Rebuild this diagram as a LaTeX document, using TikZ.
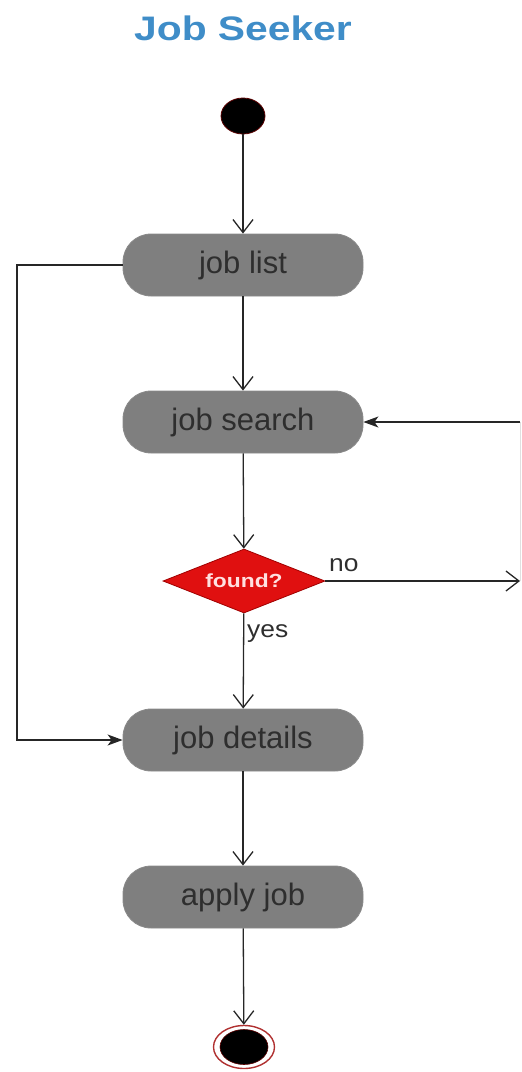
\documentclass[tikz,border=0pt]{standalone}
\usepackage{fontspec}
\setmainfont{Liberation Sans}
\usetikzlibrary{shapes.geometric,arrows.meta}
\definecolor{titleblue}{HTML}{3F8DC8}
\definecolor{boxgray}{HTML}{7F7F7F}
\definecolor{boxedge}{HTML}{8A8A8A}
\definecolor{txtdark}{HTML}{2E2E2E}
\definecolor{decred}{HTML}{E01010}
\definecolor{decedge}{HTML}{A00000}
\definecolor{darkred}{HTML}{5A0000}
\definecolor{ringred}{HTML}{B03030}
\tikzset{
  actbox/.style={draw=boxedge, line width=0.8pt, fill=boxgray, rounded corners=28pt,
    minimum width=240pt, minimum height=62pt, inner sep=0pt, text=txtdark,
    font=\fontsize{31}{31}\selectfont},
  decnode/.style={diamond, draw=decedge, line width=0.8pt, fill=decred, aspect=2.53,
    minimum width=162pt, minimum height=64pt, inner sep=0pt, text=white!88!red,
    font=\bfseries\fontsize{19}{19}\selectfont},
  initnode/.style={ellipse, draw=darkred, line width=0.8pt, fill=black,
    minimum width=44pt, minimum height=36pt, inner sep=0pt},
  finalring/.style={ellipse, draw=ringred, line width=1.4pt, fill=white,
    minimum width=61pt, minimum height=43pt, inner sep=0pt},
  finaldot/.style={ellipse, fill=black, draw=darkred, line width=0.6pt,
    minimum width=48pt, minimum height=35pt, inner sep=0pt},
  flow/.style={draw=black!85, line width=1.3pt, -{Straight Barb[length=13pt,width=20pt,line width=1.3pt]}},
  flowfill/.style={draw=black!85, line width=1.3pt, -{Stealth[length=15pt,width=11pt,inset=4pt]}},
  lbl/.style={text=txtdark, font=\fontsize{24}{24}\selectfont, inner sep=0pt},
}
\begin{document}
\begin{tikzpicture}[x=1pt,y=-1pt]
\useasboundingbox (0,0) rectangle (522,1072);
\node[text=titleblue, font=\bfseries\fontsize{34}{34}\selectfont] (title) at (243,28) {\scalebox{1.2}[1]{Job Seeker}};
\node[initnode] (start) at (243,116) {};
\node[actbox] (list) at (243,265) {\raisebox{-2pt}{job list}};
\node[actbox] (search) at (243,422) {\raisebox{-2pt}{job search}};
\node[decnode] (found) at (244,581) {\scalebox{1.2}[1]{found?}};
\node[actbox] (details) at (243,740) {\raisebox{-2pt}{job details}};
\node[actbox] (apply) at (243,897) {\raisebox{-2pt}{apply job}};
\node[finalring] (endring) at (244,1047) {};
\node[finaldot] (enddot) at (244,1047) {};
\coordinate (rlow) at (520,581);
\coordinate (rhigh) at (520,422);
\coordinate (lcorner) at (17,265);
\node[lbl, anchor=south west] (nolbl) at (329,572) {\scalebox{1.1}[1]{no}};
\node[lbl, anchor=north west] (yeslbl) at (247,624) {\scalebox{1.1}[1]{yes}};
\draw[flow] (start) -- (list);
\draw[flow] (list) -- (search);
\draw[flow] (search) -- (found);
\draw[flow] (found) -- (details);
\draw[flow] (details) -- (apply);
\draw[flow] (apply) -- (endring);
\draw[flow] (found.east) -- (rlow);
\draw[black!12, line width=0.6pt] (rhigh) -- (rlow);
\draw[flowfill] (rhigh) -- (search.east);
\draw[flowfill] (list.west) -- (lcorner) |- (details.west);
\end{tikzpicture}
\end{document}
